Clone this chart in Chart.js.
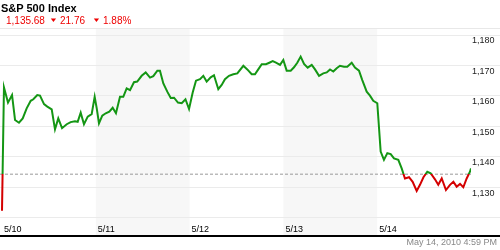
<!DOCTYPE html>
<html>
<head>
<meta charset="utf-8">
<script src="https://cdn.jsdelivr.net/npm/chart.js@4"></script>
<style>
  body { margin: 0; background: #fff; font-family: "Liberation Sans", Arial, sans-serif; }
  #wrap { position: absolute; left: 0; top: 0; width: 500px; height: 250px; }
  .txt { position: absolute; white-space: nowrap; line-height: 12px; }
  .title { font-size: 11px; font-weight: bold; color: #000; left: 1px; top: 2px; }
  .quote { font-size: 10px; color: #e00; top: 15px; }
  .arrow { font-size: 9px; color: #e00; top: 14px; transform: scaleY(0.7); }
  .stamp { font-size: 9px; color: #888; right: 3px; top: 237px; line-height: 11px; }
</style>
</head>
<body>
<div id="wrap">
  <canvas id="chart" width="500" height="250"></canvas>
  <div class="txt title">S&amp;P 500 Index</div>
  <div class="txt quote" style="left:6px">1,135.68</div>
  <div class="txt arrow" style="left:49px">▼</div>
  <div class="txt quote" style="left:60px">21.76</div>
  <div class="txt arrow" style="left:92px">▼</div>
  <div class="txt quote" style="left:103px">1.88%</div>
  <div class="txt stamp">May 14, 2010 4:59 PM</div>
</div>
<script>
const dayLabels = ["5/10", "5/11", "5/12", "5/13", "5/14"];
const shadedDays = [1, 3];
const yTicks = [1120, 1130, 1140, 1150, 1160, 1170, 1180];
const refLevel = 1134.3;

// time in trading days since 5/10 open
const times = [
  0.000, 0.021, 0.064, 0.107, 0.139, 0.181, 0.221, 0.263, 0.306, 0.334,
  0.376, 0.405, 0.448, 0.483, 0.530, 0.565, 0.600, 0.640, 0.690, 0.732,
  0.778, 0.807, 0.839, 0.874, 0.914, 0.956, 0.988,
  1.010, 1.034, 1.069, 1.106, 1.144, 1.180, 1.215, 1.258, 1.293, 1.329,
  1.365, 1.407, 1.442, 1.489, 1.532, 1.578, 1.613, 1.656, 1.684, 1.720,
  1.762, 1.799, 1.834, 1.876, 1.916, 1.956, 1.994,
  2.033, 2.068, 2.111, 2.146, 2.182, 2.225, 2.260, 2.306, 2.342, 2.377,
  2.420, 2.466, 2.509, 2.573, 2.615, 2.662, 2.697, 2.732, 2.769, 2.814,
  2.850, 2.886, 2.921, 2.964, 2.999,
  3.035, 3.078, 3.113, 3.148, 3.184, 3.220, 3.259, 3.302, 3.337, 3.380,
  3.425, 3.462, 3.497, 3.532, 3.568, 3.603, 3.646, 3.681, 3.728, 3.763,
  3.806, 3.841, 3.888, 3.923, 3.958, 4.001,
  4.037, 4.072, 4.108, 4.144, 4.179, 4.225, 4.261, 4.296, 4.339, 4.378,
  4.421, 4.456, 4.493, 4.534, 4.570, 4.616, 4.651, 4.688, 4.733, 4.776,
  4.812, 4.847, 4.883, 4.918, 4.954, 4.989, 5.000
];
const prices = [
  1122.3, 1162.8, 1157.8, 1160.3, 1152.1, 1151.2, 1152.6, 1155.9, 1158.4, 1158.9,
  1160.3, 1160.1, 1157.3, 1156.5, 1155.6, 1149.0, 1152.6, 1149.4, 1150.7, 1151.4,
  1151.7, 1151.5, 1154.5, 1150.7, 1153.2, 1154.0, 1159.7,
  1155.9, 1151.0, 1153.5, 1154.3, 1154.8, 1156.1, 1154.3, 1159.7, 1159.7, 1162.5,
  1161.9, 1164.5, 1164.7, 1166.6, 1167.7, 1166.0, 1166.5, 1168.3, 1168.3, 1164.1,
  1161.4, 1159.3, 1159.4, 1157.8, 1157.6, 1158.9, 1155.7,
  1161.1, 1165.0, 1165.5, 1166.6, 1164.7, 1166.1, 1166.8, 1162.2, 1163.6, 1165.5,
  1166.6, 1167.1, 1167.4, 1169.9, 1168.7, 1167.1, 1167.1, 1168.7, 1170.4, 1170.4,
  1170.9, 1171.4, 1170.9, 1170.2, 1171.8,
  1168.3, 1168.3, 1169.4, 1170.9, 1172.9, 1170.5, 1169.3, 1170.2, 1168.7, 1166.6,
  1167.4, 1167.7, 1168.7, 1168.0, 1169.1, 1169.9, 1169.6, 1169.6, 1170.9, 1169.3,
  1168.3, 1165.2, 1161.4, 1160.1, 1158.4, 1157.6,
  1141.7, 1139.0, 1141.2, 1140.9, 1139.5, 1139.0, 1136.2, 1132.9, 1133.3, 1131.8,
  1128.8, 1130.8, 1133.3, 1135.1, 1134.6, 1132.6, 1130.8, 1132.9, 1129.1, 1130.8,
  1131.8, 1130.2, 1131.1, 1130.0, 1132.9, 1135.1, 1136.2
];

const upColor = "#149614";
const downColor = "#d40000";
const xMin = -0.0213;
const xMax = 5.0;

const backdrop = {
    id: "backdrop",
    beforeDraw(chart) {
        const { ctx, chartArea, scales } = chart;
        ctx.save();
        ctx.fillStyle = "#f7f7f7";
        shadedDays.forEach((d) => {
            const l = scales.x.getPixelForValue(d);
            const r = scales.x.getPixelForValue(d + 1);
            ctx.fillRect(l, chartArea.top, r - l, chartArea.bottom - chartArea.top);
        });
        ctx.fillStyle = "#e8e8e8";
        ctx.fillRect(0, chartArea.top, chart.width, 1);
        ctx.restore();
    },
    afterDraw(chart) {
        const { ctx, chartArea, scales } = chart;
        ctx.save();
        ctx.fillStyle = "#000";
        ctx.fillRect(0, chartArea.bottom - 1, chart.width, 2);
        // day labels sit just above the baseline, inside the plot
        ctx.font = "9px 'Liberation Sans', Arial, sans-serif";
        ctx.textAlign = "left";
        ctx.textBaseline = "middle";
        dayLabels.forEach((lbl, i) => {
            ctx.fillText(lbl, scales.x.getPixelForValue(i) + 2, chartArea.bottom - 6.5);
        });
        ctx.restore();
    },
};

function lineColor(context) {
    const chart = context.chart;
    const area = chart.chartArea;
    if (!area) return upColor;
    const yPix = chart.scales.y.getPixelForValue(refLevel);
    const stop = Math.min(1, Math.max(0, (yPix - area.top) / (area.bottom - area.top)));
    const g = chart.ctx.createLinearGradient(0, area.top, 0, area.bottom);
    g.addColorStop(0, upColor);
    g.addColorStop(stop, upColor);
    g.addColorStop(stop, downColor);
    g.addColorStop(1, downColor);
    return g;
}

const ctx = document.getElementById("chart");
new Chart(ctx, {
    type: "line",
    data: {
        datasets: [
            {
                label: "S&P 500",
                data: times.map((t, i) => ({ x: t, y: prices[i] })),
                borderColor: lineColor,
                borderWidth: 2,
                pointRadius: 0,
                tension: 0,
                order: 1,
            },
            {
                label: "Reference",
                data: [{ x: xMin, y: refLevel }, { x: xMax, y: refLevel }],
                borderColor: "#999",
                borderWidth: 1,
                borderDash: [3, 2],
                pointRadius: 0,
                order: 2,
            },
        ],
    },
    options: {
        responsive: false,
        animation: false,
        devicePixelRatio: 1,
        layout: { padding: { top: 28, left: 0, right: 0, bottom: 0 } },
        plugins: {
            legend: { display: false },
            tooltip: { enabled: false },
        },
        scales: {
            x: {
                type: "linear",
                min: xMin,
                max: xMax,
                afterBuildTicks: (scale) => {
                    scale.ticks = dayLabels.map((_, i) => ({ value: i }));
                },
                afterFit: (scale) => {
                    scale.height = 14;
                    scale.paddingLeft = 0;
                    scale.paddingRight = 0;
                },
                grid: { display: false },
                border: { display: false },
                ticks: { display: false },
            },
            y: {
                position: "right",
                min: 1114.0,
                max: 1182.3,
                afterBuildTicks: (scale) => {
                    scale.ticks = yTicks.map((v) => ({ value: v }));
                },
                afterFit: (scale) => {
                    scale.width = 29;
                    scale.paddingTop = 0;
                    scale.paddingBottom = 0;
                },
                grid: {
                    color: "#ebebeb",
                    tickColor: "#ebebeb",
                    tickLength: 29,
                    drawTicks: true,
                },
                border: { display: false },
                ticks: {
                    callback: (v) => (v >= 1130 ? v.toLocaleString("en-US") : ""),
                    padding: -28,
                    labelOffset: 6,
                    color: "#222",
                    font: { family: "Liberation Sans", size: 9 },
                },
            },
        },
    },
    plugins: [backdrop],
});
</script>
</body>
</html>
